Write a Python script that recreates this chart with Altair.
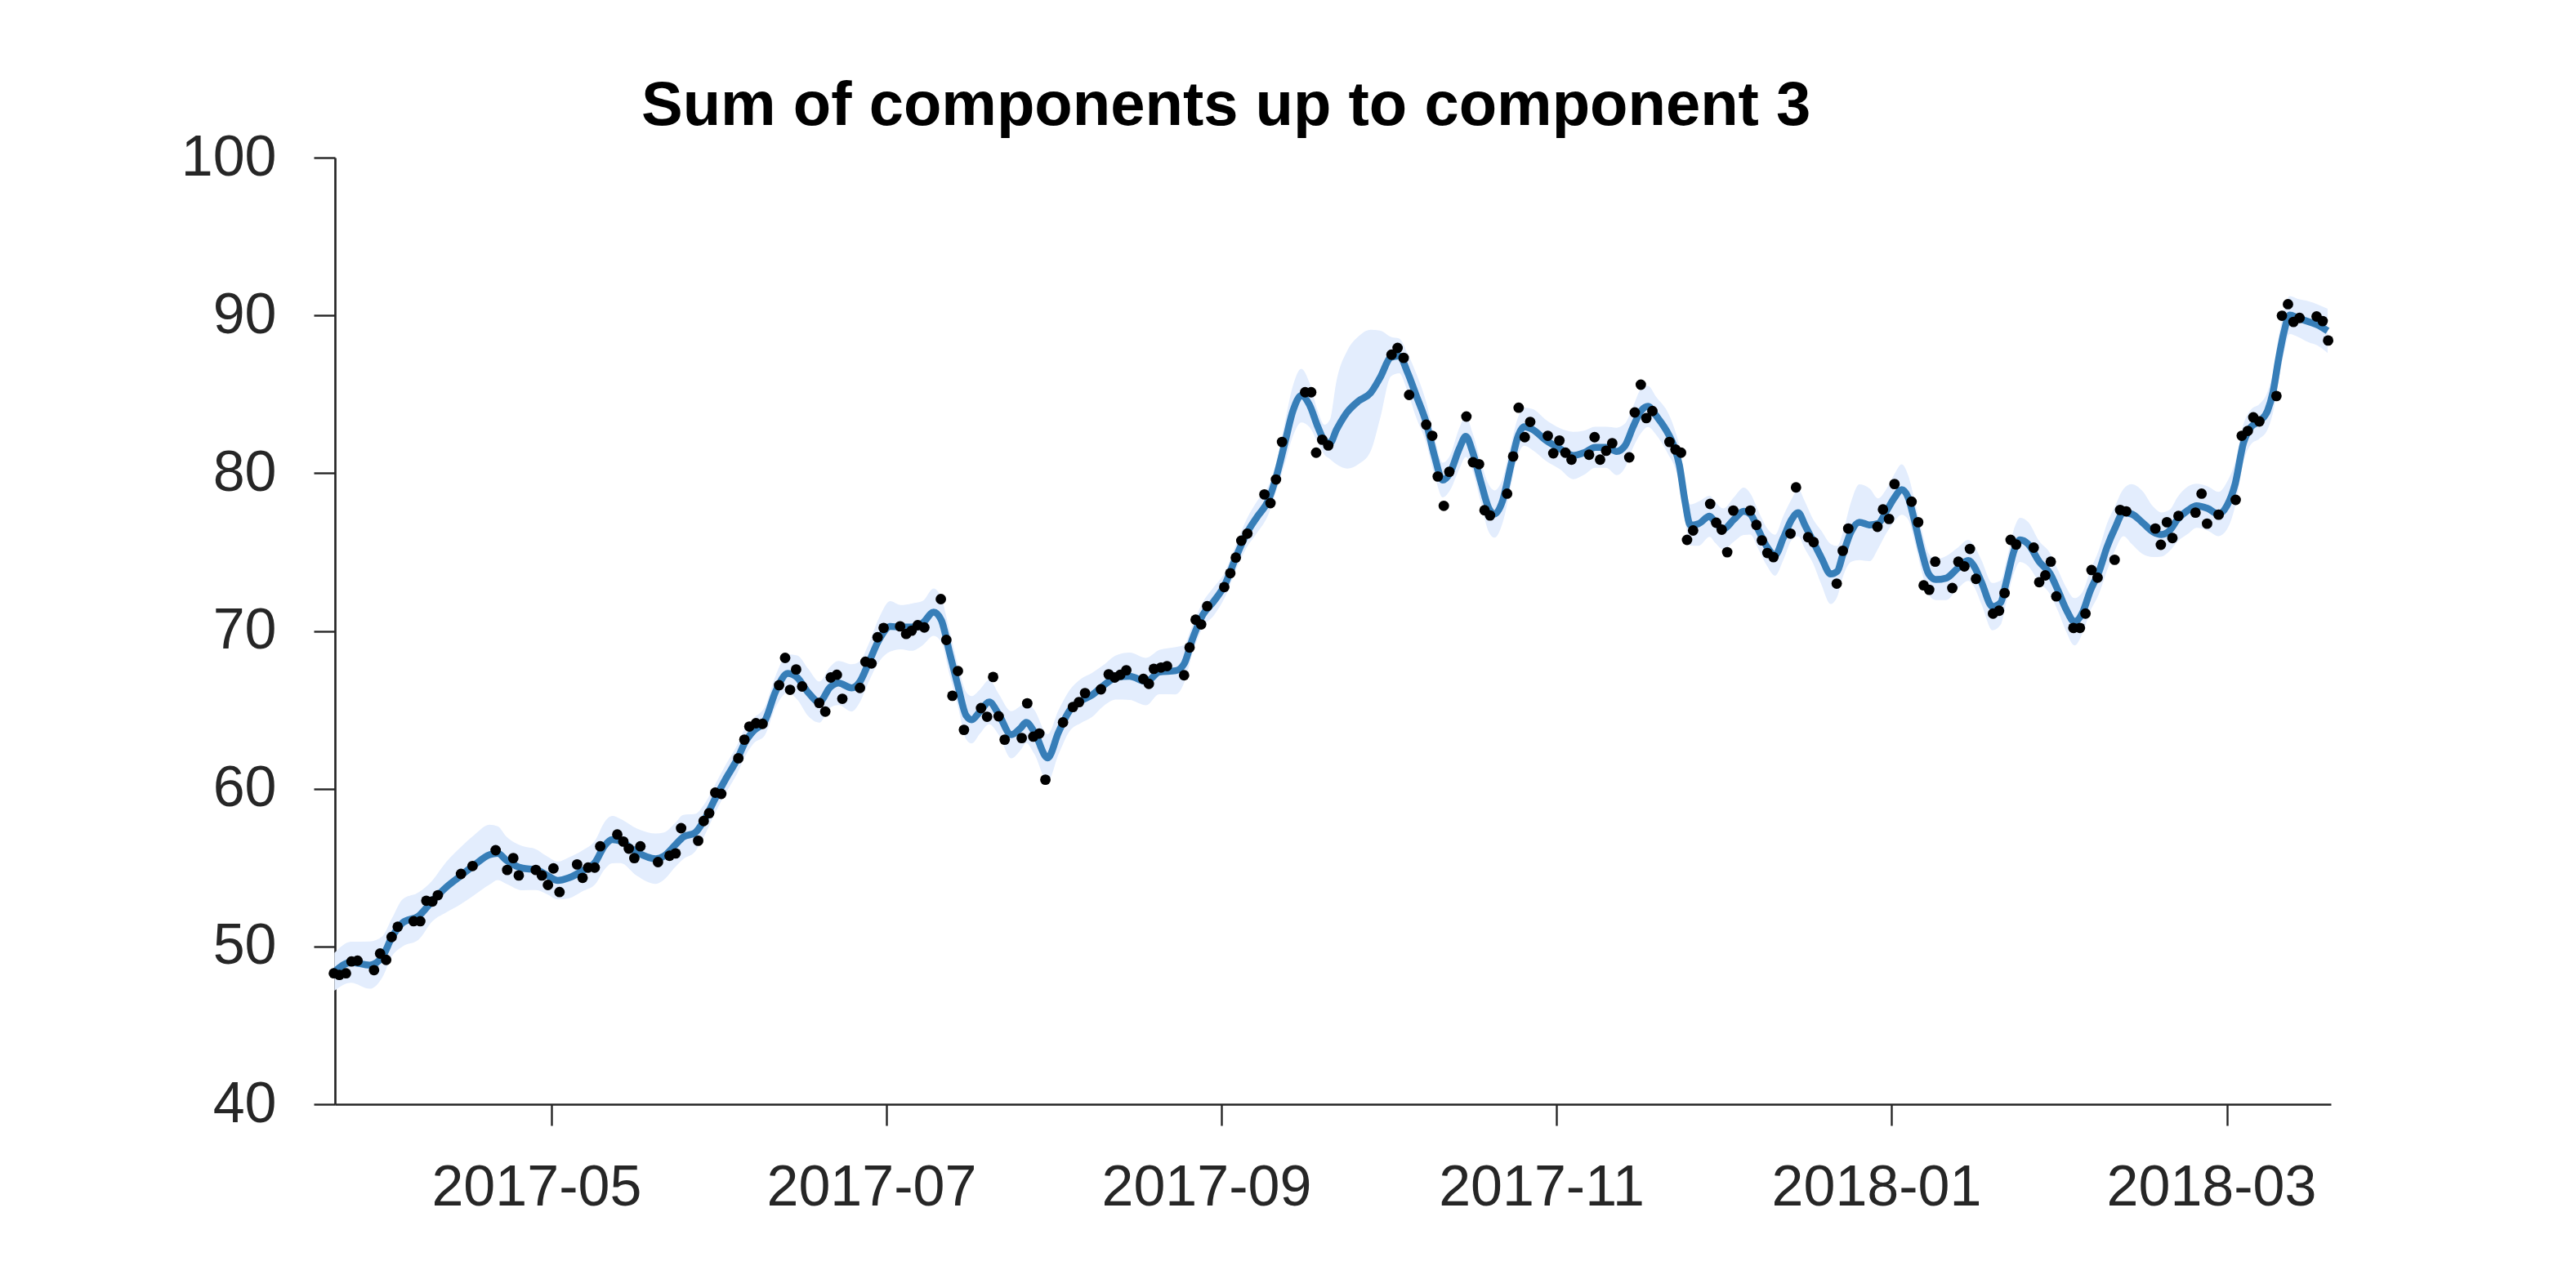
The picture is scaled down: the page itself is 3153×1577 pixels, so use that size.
import altair as alt
import pandas as pd

TITLE = "Sum of components up to component 3"
ORIGIN = "2017-05-01"   # day 0 of the day offsets below (the "2017-05" tick)

# observed points: day offset from ORIGIN, value
pt_day = [
    -39.6, -38.6, -37.4, -36.4, -35.3, -32.3, -31.2, -30.1, -29.1, -28.0,
    -25.1, -23.9, -22.8, -21.7, -20.7, -16.5, -14.4, -10.2, -8.1, -7.0,
    -6.0, -2.9, -1.8, -0.7, 0.3, 1.4, 4.6, 5.6, 6.6, 7.8,
    8.8, 11.9, 13.0, 14.0, 15.0, 16.1, 19.3, 21.4, 22.5, 23.5,
    26.6, 27.6, 28.6, 29.7, 30.8, 33.9, 35.0, 35.9, 37.1, 38.3,
    41.3, 42.4, 43.3, 44.4, 45.5, 48.6, 49.7, 50.7, 51.8, 52.8,
    56.0, 57.0, 58.1, 59.2, 60.3, 63.3, 64.4, 65.4, 66.5, 67.7,
    70.7, 71.7, 72.8, 73.8, 74.9, 78.0, 79.1, 80.2, 81.2, 82.3,
    85.4, 86.4, 87.5, 88.6, 89.7, 92.9, 94.7, 95.8, 96.9, 99.8,
    101.2, 102.3, 103.3, 104.4, 107.5, 108.5, 109.4, 110.7, 111.8, 114.9,
    115.9, 117.0, 118.0, 119.1, 122.2, 123.3, 124.3, 125.3, 126.4, 129.5,
    130.6, 131.6, 132.7, 136.9, 138.0, 138.9, 140.0, 141.1, 152.6, 153.7,
    154.8, 155.8, 158.9, 160.0, 161.0, 162.1, 163.1, 166.2, 167.4, 168.5,
    169.5, 170.5, 173.6, 174.7, 175.7, 176.8, 177.8, 181.0, 182.0, 183.1,
    184.2, 185.3, 188.5, 189.5, 190.5, 191.6, 192.7, 195.8, 196.8, 197.9,
    198.9, 200.0, 203.1, 204.2, 205.2, 206.3, 207.4, 210.5, 211.6, 212.6,
    213.6, 214.7, 217.8, 218.9, 219.9, 220.9, 222.0, 225.1, 226.1, 228.3,
    229.3, 233.5, 234.6, 235.6, 240.9, 241.9, 243.0, 244.0, 247.1, 248.3,
    249.3, 250.3, 251.4, 254.5, 255.6, 256.7, 257.7, 258.8, 261.9, 263.0,
    264.0, 265.1, 266.1, 269.3, 270.3, 271.4, 272.4, 273.4, 276.5, 277.7,
    278.7, 279.8, 280.9, 284.0, 285.0, 286.1, 291.4, 292.4, 293.5, 294.5,
    295.6, 298.7, 299.8, 300.8, 302.9, 306.0, 307.1, 308.2, 309.2, 310.3,
    313.4, 314.4, 315.5, 316.5, 317.6, 320.7, 321.8, 322.8,
]
pt_val = [
    48.3, 48.2, 48.3, 49.05, 49.1, 48.5, 49.55, 49.15, 50.6, 51.25,
    51.6, 51.6, 52.9, 52.85, 53.25, 54.6, 55.1, 56.1, 54.85, 55.6,
    54.5, 54.85, 54.5, 53.9, 54.95, 53.45, 55.2, 54.35, 55.0, 55.0,
    56.35, 57.1, 56.65, 56.2, 55.6, 56.35, 55.35, 55.75, 55.9, 57.5,
    56.7, 57.95, 58.45, 59.75, 59.67, 61.93, 63.11, 63.94, 64.15, 64.11,
    66.56, 68.29, 66.27, 67.56, 66.48, 65.44, 64.89, 67.05, 67.22, 65.7,
    66.39, 68.05, 67.94, 69.6, 70.19, 70.29, 69.81, 70.02, 70.36, 70.22,
    72.02, 69.43, 65.89, 67.46, 63.73, 65.11, 64.56, 67.08, 64.59, 63.11,
    63.21, 65.41, 63.3, 63.5, 60.57, 64.2, 65.18, 65.49, 66.06, 66.3,
    67.25, 67.05, 67.22, 67.51, 66.96, 66.65, 67.6, 67.68, 67.77, 67.19,
    68.95, 70.71, 70.41, 71.57, 72.78, 73.66, 74.65, 75.72, 76.17, 78.65,
    78.1, 79.6, 81.98, 85.13, 85.13, 81.3, 82.12, 81.76, 87.51, 87.94,
    87.31, 84.96, 83.07, 82.37, 79.79, 77.93, 80.09, 83.59, 80.69, 80.57,
    77.65, 77.32, 78.7, 81.06, 84.15, 82.28, 83.25, 82.37, 81.26, 82.07,
    81.3, 80.86, 81.17, 82.28, 80.86, 81.42, 81.9, 81.0, 83.85, 85.61,
    83.49, 83.94, 81.98, 81.5, 81.3, 75.77, 76.37, 78.05, 76.86, 76.42,
    74.99, 77.63, 77.63, 76.72, 75.74, 74.94, 74.68, 76.17, 79.1, 75.94,
    75.63, 73.0, 75.08, 76.49, 76.6, 77.7, 77.1, 79.31, 78.19, 76.89,
    72.89, 72.61, 74.39, 72.72, 74.39, 74.09, 75.2, 73.3, 71.1, 71.28,
    72.4, 75.77, 75.48, 75.28, 73.09, 73.52, 74.39, 72.19, 70.19, 70.19,
    71.1, 73.86, 73.38, 74.51, 77.67, 77.58, 76.49, 75.46, 76.89, 75.89,
    77.29, 77.5, 78.7, 76.8, 77.37, 78.31, 82.37, 82.68, 83.54, 83.28,
    84.89, 89.98, 90.71, 89.59, 89.84, 89.93, 89.64, 88.41,
]

# fitted mean curve: day offset, value
line_day = [
    -39.5, -36.5, -33.1, -30.8, -29.1, -27.1, -24.2, -21.7, -19.2, -16.7,
    -14.2, -11.3, -9.8, -8.3, -5.3, -2.9, -0.9, 1.1, 3.1, 5.5,
    8.0, 9.5, 11.0, 12.5, 15.4, 18.9, 20.4, 22.4, 23.9, 26.0,
    27.8, 29.8, 31.8, 33.7, 35.2, 36.7, 38.7, 40.7, 42.9, 44.6,
    46.6, 48.6, 50.6, 52.1, 54.5, 56.0, 57.5, 59.5, 61.5, 63.4,
    65.4, 67.4, 69.4, 70.8, 72.3, 73.8, 75.3, 76.3, 77.8, 79.5,
    81.2, 83.5, 85.2, 86.2, 87.7, 90.1, 92.1, 94.1, 96.1, 98.1,
    100.3, 102.5, 105.0, 108.0, 110.4, 113.4, 114.9, 116.4, 118.3, 120.3,
    122.3, 124.3, 126.3, 128.2, 130.2, 131.7, 133.2, 134.7, 136.2, 137.7,
    139.2, 140.4, 141.4, 142.6, 144.6, 146.6, 148.8, 150.5, 152.5, 154.0,
    155.5, 157.0, 158.9, 160.4, 161.9, 163.2, 164.9, 166.1, 167.3, 168.8,
    170.3, 171.3, 172.8, 174.3, 175.5, 176.7, 178.2, 180.7, 183.2, 185.6,
    187.6, 189.6, 191.6, 193.5, 195.0, 196.5, 198.0, 199.2, 200.7, 203.0,
    203.9, 204.9, 205.9, 206.9, 208.4, 210.4, 211.4, 212.9, 214.8, 216.6,
    217.8, 219.3, 220.8, 222.3, 223.8, 225.3, 226.5, 227.7, 229.2, 230.7,
    232.4, 233.6, 234.6, 236.1, 237.6, 239.5, 241.0, 242.5, 244.0, 245.3,
    246.5, 247.7, 249.0, 250.2, 251.5, 253.4, 255.4, 257.4, 258.4, 259.8,
    261.8, 263.3, 264.3, 265.8, 266.8, 268.3, 270.3, 272.3, 273.7, 275.2,
    276.7, 278.2, 279.6, 281.1, 282.6, 284.1, 285.6, 287.1, 289.0, 291.0,
    292.5, 294.0, 295.4, 297.4, 298.9, 300.9, 302.9, 304.4, 305.9, 307.4,
    308.8, 310.3, 311.8, 312.8, 313.8, 314.8, 315.8, 317.3, 319.3, 320.8,
    322.7,
]
line_val = [
    48.39, 49.0, 48.82, 49.34, 50.55, 51.5, 51.93, 52.89, 53.75, 54.44,
    55.13, 55.82, 55.91, 55.48, 54.96, 54.87, 54.52, 54.18, 54.35, 54.78,
    55.39, 56.34, 56.77, 56.68, 55.99, 55.56, 55.73, 56.42, 56.94, 57.2,
    58.07, 59.45, 60.74, 61.87, 62.99, 63.68, 64.28, 66.18, 67.31, 67.05,
    66.1, 65.49, 66.44, 66.7, 66.39, 66.79, 67.91, 69.46, 70.29, 70.24,
    70.24, 70.5, 71.19, 70.67, 68.6, 66.53, 64.63, 64.37, 64.89, 65.49,
    64.72, 63.42, 63.85, 64.2, 63.59, 61.95, 63.59, 64.95, 65.55, 65.92,
    66.55, 67.05, 67.13, 66.79, 67.39, 67.48, 67.91, 69.46, 71.02, 71.88,
    72.92, 74.65, 76.2, 77.24, 78.27, 79.83, 81.9, 83.97, 84.92, 84.32,
    82.94, 82.07, 81.9, 82.76, 83.89, 84.57, 85.09, 86.04, 87.34, 87.43,
    86.39, 85.0, 83.2, 81.1, 79.56, 80.0, 81.55, 82.33, 81.38, 79.48,
    77.75, 77.41, 78.27, 80.52, 82.25, 82.94, 82.77, 82.07, 81.55, 81.12,
    81.3, 81.64, 81.64, 81.38, 81.73, 82.94, 83.97, 84.23, 83.63, 82.42,
    81.73, 80.52, 78.27, 76.71, 76.8, 77.27, 76.89, 76.46, 77.06, 77.58,
    77.41, 76.37, 75.34, 74.8, 75.9, 77.06, 77.5, 76.72, 75.68, 74.65,
    73.61, 73.78, 74.82, 76.28, 76.89, 76.72, 76.8, 77.58, 78.45, 78.96,
    78.45, 76.89, 74.99, 73.61, 73.26, 73.35, 73.95, 74.47, 74.13, 73.09,
    71.54, 71.8, 73.09, 75.16, 75.77, 75.5, 74.39, 73.61, 72.57, 71.36,
    70.58, 71.19, 72.57, 73.7, 75.3, 76.54, 77.5, 77.41, 76.89, 76.28,
    76.11, 76.37, 77.06, 77.67, 77.93, 77.76, 77.41, 77.93, 79.31, 81.9,
    82.94, 83.28, 83.97, 85.18, 87.25, 88.98, 90.02, 89.84, 89.59, 89.41,
    89.02,
]
# width of the shaded band below / above the curve at each curve point
band_dn = [
    1.2, 1.3, 1.5, 1.3, 1.2, 1.5, 1.5, 1.3, 1.6, 1.8,
    1.9, 1.9, 1.7, 1.5, 1.4, 1.3, 1.2, 1.2, 1.3, 1.3,
    1.4, 1.5, 1.5, 1.4, 1.5, 1.6, 1.5, 1.4, 1.4, 1.2,
    1.0, 0.9, 0.9, 0.9, 0.9, 0.8, 0.9, 1.0, 1.2, 1.4,
    1.5, 1.3, 1.3, 1.4, 1.5, 1.3, 1.2, 1.4, 1.6, 1.4,
    1.5, 1.4, 1.5, 1.4, 1.4, 1.3, 1.5, 1.5, 1.4, 1.4,
    1.3, 1.5, 1.4, 1.3, 1.4, 1.5, 1.4, 1.3, 1.4, 1.4,
    1.3, 1.4, 1.5, 1.5, 1.4, 1.5, 1.2, 0.9, 0.8, 0.9,
    0.8, 0.8, 0.9, 1.0, 0.9, 0.9, 1.3, 1.6, 1.7, 1.4,
    1.0, 0.9, 1.0, 2.2, 3.6, 4.0, 3.7, 2.6, 1.2, 1.1,
    1.2, 1.4, 1.3, 1.2, 1.1, 1.1, 1.3, 1.3, 1.2, 1.3,
    1.5, 1.5, 1.4, 1.3, 1.2, 1.2, 1.3, 1.3, 1.3, 1.5,
    1.4, 1.3, 1.3, 1.5, 1.4, 1.3, 1.4, 1.3, 1.2, 1.3,
    1.2, 1.2, 1.2, 1.3, 1.4, 1.3, 1.3, 1.3, 1.4, 1.5,
    1.3, 1.2, 1.2, 1.3, 1.4, 1.3, 1.5, 1.5, 1.4, 1.7,
    1.9, 1.6, 1.4, 1.9, 2.4, 2.3, 1.6, 1.4, 1.5, 1.6,
    1.4, 1.3, 1.3, 1.3, 1.3, 1.4, 1.3, 1.3, 1.3, 1.4,
    1.5, 1.4, 1.3, 1.4, 1.4, 1.4, 1.3, 1.3, 1.3, 1.4,
    1.5, 1.3, 1.3, 1.4, 1.5, 1.4, 1.5, 1.9, 2.0, 1.6,
    1.4, 1.3, 1.4, 1.5, 1.4, 1.4, 1.4, 1.5, 1.4, 1.2,
    1.1, 1.1, 1.2, 1.3, 1.4, 1.3, 1.2, 1.2, 1.3, 1.3,
    1.4,
]
band_up = [
    1.2, 1.3, 1.5, 1.3, 1.2, 1.5, 1.5, 1.3, 1.6, 1.8,
    1.9, 1.9, 1.7, 1.5, 1.4, 1.3, 1.2, 1.2, 1.3, 1.3,
    1.4, 1.5, 1.5, 1.4, 1.5, 1.6, 1.5, 1.4, 1.4, 1.2,
    1.0, 0.9, 0.9, 0.9, 0.9, 0.8, 0.9, 1.0, 1.2, 1.4,
    1.5, 1.3, 1.3, 1.4, 1.5, 1.3, 1.2, 1.4, 1.6, 1.4,
    1.5, 1.4, 1.5, 1.4, 1.4, 1.3, 1.5, 1.5, 1.4, 1.4,
    1.3, 1.5, 1.4, 1.3, 1.4, 1.5, 1.4, 1.3, 1.4, 1.4,
    1.3, 1.4, 1.5, 1.5, 1.4, 1.5, 1.2, 0.9, 0.8, 0.9,
    0.8, 0.8, 0.9, 1.0, 0.9, 0.9, 1.3, 1.6, 1.7, 1.4,
    1.0, 1.0, 1.5, 3.1, 3.9, 4.1, 4.0, 3.0, 1.3, 1.1,
    1.2, 1.4, 1.3, 1.2, 1.1, 1.1, 1.3, 1.3, 1.2, 1.3,
    1.5, 1.5, 1.4, 1.3, 1.2, 1.2, 1.3, 1.3, 1.3, 1.5,
    1.4, 1.3, 1.3, 1.5, 1.4, 1.3, 1.4, 1.3, 1.2, 1.3,
    1.2, 1.2, 1.2, 1.3, 1.4, 1.3, 1.3, 1.3, 1.4, 1.5,
    1.3, 1.2, 1.2, 1.3, 1.4, 1.3, 1.5, 1.5, 1.4, 1.7,
    1.9, 1.6, 1.4, 1.9, 2.4, 2.3, 1.6, 1.4, 1.5, 1.6,
    1.4, 1.3, 1.3, 1.3, 1.3, 1.4, 1.3, 1.3, 1.3, 1.4,
    1.5, 1.4, 1.3, 1.4, 1.4, 1.4, 1.3, 1.3, 1.3, 1.4,
    1.5, 1.3, 1.3, 1.4, 1.5, 1.4, 1.5, 1.9, 2.0, 1.6,
    1.4, 1.3, 1.4, 1.5, 1.4, 1.4, 1.4, 1.5, 1.4, 1.2,
    1.1, 1.1, 1.2, 1.3, 1.4, 1.3, 1.2, 1.2, 1.3, 1.3,
    1.4,
]

y_ticks = [40, 50, 60, 70, 80, 90, 100]
# tick labels; in the picture the ticks sit at equal steps of 1/6 year
x_ticks = ["2017-05", "2017-07", "2017-09", "2017-11", "2018-01", "2018-03"]
x_tick_step_days = 365.25 / 6
x_range_days = [-39.4, 323.3]

assert len(pt_day) == len(pt_val)
assert len(line_day) == len(line_val) == len(band_dn) == len(band_up)

origin = pd.Timestamp(ORIGIN)


def to_date(d):
    return origin + pd.to_timedelta(d, unit="D")


def to_dt(ts):
    return alt.DateTime(year=ts.year, month=ts.month, date=ts.day,
                        hours=ts.hour, minutes=ts.minute)


pts = pd.DataFrame({"date": [to_date(d) for d in pt_day], "value": pt_val})
fit = pd.DataFrame({
    "date": [to_date(d) for d in line_day],
    "mean": line_val,
    "lo": [v - h for v, h in zip(line_val, band_dn)],
    "hi": [v + h for v, h in zip(line_val, band_up)],
})

x_scale = alt.Scale(domain=[to_dt(to_date(x_range_days[0])),
                            to_dt(to_date(x_range_days[1]))], nice=False)
y_scale = alt.Scale(domain=[y_ticks[0], y_ticks[-1]], nice=False, zero=False)

AX = dict(labelFont="Liberation Sans", labelFontSize=70, labelColor="#262626",
          domainColor="#262626", domainWidth=2.7, tickColor="#262626",
          tickWidth=2.4, tickSize=26, title=None, grid=False, labelLimit=0)

tick_values = [to_dt(to_date(k * x_tick_step_days)) for k in range(len(x_ticks))]
# each tick carries the label of the month it stands for (nearest month start)
x_axis = alt.Axis(
    values=tick_values,
    labelExpr="timeFormat(time(datum.value) + 15 * 864e5, '%Y-%m')",
    labelPadding=42, labelOffset=-19, labelFlush=False, labelOverlap=False, **AX,
)
y_axis = alt.Axis(values=y_ticks, labelPadding=46, **AX)

X = alt.X("date:T", scale=x_scale, axis=x_axis)

band = alt.Chart(fit).mark_area(interpolate="monotone", color="#e3edfd").encode(
    x=X,
    y=alt.Y("lo:Q", scale=y_scale, axis=y_axis),
    y2="hi:Q",
)
line = alt.Chart(fit).mark_line(interpolate="monotone", color="#377eb8",
                                strokeWidth=8.5).encode(
    x=X,
    y=alt.Y("mean:Q", scale=y_scale, axis=y_axis),
)
points = alt.Chart(pts).mark_circle(size=165, color="black", opacity=1).encode(
    x=X,
    y=alt.Y("value:Q", scale=y_scale, axis=y_axis),
)

chart = alt.layer(band, line, points).properties(
    width=2443,
    height=1159,
    background="white",
    autosize=alt.AutoSizeParams(type="none"),
    padding={"left": 410, "top": 193, "right": 300, "bottom": 225},
    title=alt.TitleParams(
        text=TITLE, font="Liberation Sans", fontSize=76, fontWeight="bold",
        color="black", anchor="start", frame="group", dx=375, offset=-71,
        baseline="alphabetic",
    ),
).configure_view(stroke=None)

chart.save("out.html", embed_options={"renderer": "svg", "actions": False})
